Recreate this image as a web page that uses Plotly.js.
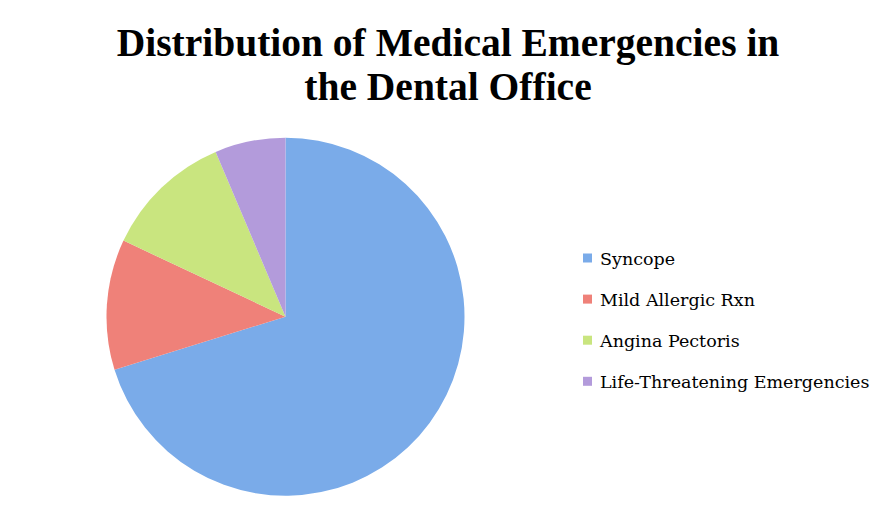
<!DOCTYPE html>
<html>
<head>
<meta charset="utf-8">
<script src="https://cdn.plot.ly/plotly-3.0.1.min.js"></script>
<style>
  html, body { margin: 0; padding: 0; background: #fff; }
  #chart { width: 896px; height: 521px; }
</style>
</head>
<body>
<div id="chart"></div>
<script>
// emergency counts
var categories = ["Syncope", "Mild Allergic Rxn", "Angina Pectoris", "Life-Threatening Emergencies"];
var counts = [15407, 2583, 2552, 1400];
var sliceColors = ["#7aabe9", "#ef8179", "#c9e57f", "#b39bdb"];

var W = 896, H = 521;
var cx = 285.5, cy = 316.7, r = 179;

var data = [{
  type: "pie",
  labels: categories,
  values: counts,
  sort: false,
  direction: "clockwise",
  rotation: 0,
  textinfo: "none",
  hoverinfo: "label+percent",
  marker: { colors: sliceColors, line: { width: 0 } },
  domain: {
    x: [(cx - r) / W, (cx + r) / W],
    y: [1 - (cy + r) / H, 1 - (cy - r) / H]
  }
}];

var layout = {
  width: W,
  height: H,
  margin: { l: 0, r: 0, t: 0, b: 0 },
  paper_bgcolor: "#ffffff",
  title: {
    text: "Distribution of Medical Emergencies in<br>the Dental Office",
    font: { family: "Liberation Serif", size: 39.5, color: "#000000", weight: "bold" },
    x: 0.5,
    xanchor: "center",
    y: 1 - 56 / H,
    yanchor: "middle",
    yref: "container"
  },
  showlegend: true,
  legend: {
    x: 560 / W,
    xanchor: "left",
    y: 1 - 240 / H,
    yanchor: "top",
    font: { family: "DejaVu Serif", size: 17.5, color: "#000000" },
    bgcolor: "rgba(0,0,0,0)"
  }
};

Plotly.newPlot("chart", data, layout, { displayModeBar: false, staticPlot: true }).then(function () {
  // tighter title line spacing
  var lines = document.querySelectorAll("#chart .gtitle tspan.line");
  if (lines.length > 1) lines[1].setAttribute("dy", "44px");

  // spread legend rows like the original (about 41px apart)
  var box = document.querySelector("#chart .legend .scrollbox");
  if (box) box.removeAttribute("clip-path");
  var rows = document.querySelectorAll("#chart .legend .traces");
  rows.forEach(function (row, i) {
    row.setAttribute("transform", "translate(0," + (18 + i * 41.1) + ")");
    var sym = row.querySelector(".legendsymbols");
    if (sym) sym.setAttribute("transform", "translate(12.5,0) scale(0.75)");
  });
});
</script>
</body>
</html>
